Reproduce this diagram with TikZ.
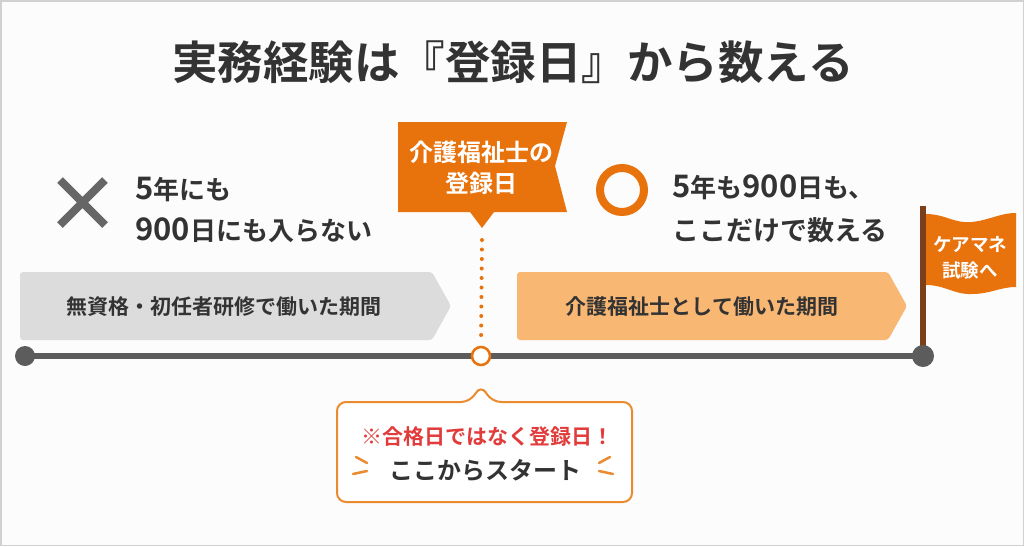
\documentclass[tikz,border=0pt]{standalone}
\usepackage{fontspec}
\setmainfont{Noto Sans CJK JP}[BoldFont={Noto Sans CJK JP Bold}]
\usetikzlibrary{calc}
\definecolor{ink}{HTML}{333333}
\definecolor{orng}{HTML}{E8720C}
\definecolor{lorng}{HTML}{F9B774}
\definecolor{bandgray}{HTML}{DCDCDC}
\definecolor{linegray}{HTML}{5C5C5C}
\definecolor{crossgray}{HTML}{666666}
\definecolor{callred}{HTML}{E23B3B}
\definecolor{boxorng}{HTML}{E98B2E}
\definecolor{pole}{HTML}{7B3F1C}
\definecolor{paper}{HTML}{FCFCFC}
\newcommand{\dg}[1]{{\fontsize{31}{36}\selectfont #1}}
\newcommand{\kn}[1]{{\fontsize{26}{36}\selectfont #1}}
\begin{document}
\begin{tikzpicture}[x=1pt,y=-1pt,
  txt/.style={inner sep=0pt,font=\bfseries,text=ink},
  bandtxt/.style={txt,font=\bfseries\fontsize{21}{24}\selectfont},
  big/.style={txt,anchor=base west},
  wtxt/.style={inner sep=0pt,font=\bfseries,text=white,align=center}]
\fill[paper] (0,0) rectangle (1024,546);
\draw[black!18,line width=1.5] (0.75,0.75) rectangle (1023.25,545.25);
\useasboundingbox (0,0) rectangle (1024,546);

% title
\node[txt,font=\bfseries\fontsize{45.5}{50}\selectfont] (title) at (513,62) {実務経験は『登録日』から数える};

% cross mark
\coordinate (c1) at (60,180); \coordinate (c2) at (105,225);
\coordinate (c3) at (105,180); \coordinate (c4) at (60,225);
\draw[crossgray,line width=8] (c1) -- (c2) (c3) -- (c4);

\node[big] (left1) at (135,199) {\dg{5}\kn{年にも}};
\node[big] (left2) at (135,240) {\dg{900}\kn{日にも入らない}};

% orange circle
\node[draw=orng,line width=8,circle,minimum size=44] (okmark) at (622,190) {};
\node[big] (right1) at (672,197) {\dg{5}\kn{年も}\dg{900}\kn{日も、}};
\node[big] (right2) at (672,240) {{\fontsize{27}{36}\selectfont ここだけで数える}};

% bands
\fill[bandgray,rounded corners=3] (20,272) -- (432,272) -- (451,306) -- (432,340) -- (20,340) -- cycle;
\node[bandtxt] (grayband) at (224,307) {無資格・初任者研修で働いた期間};
\fill[lorng,rounded corners=3] (517,272) -- (888,272) -- (907,306) -- (888,340) -- (517,340) -- cycle;
\node[bandtxt] (orangeband) at (702,307) {介護福祉士として働いた期間};

% timeline
\coordinate (tl) at (25,356);
\coordinate (tm) at (481,356);
\coordinate (tr) at (923,356);
\draw[linegray,line width=6] (tl) -- (tr);

% banner
\fill[orng] (398,122) -- (567,122) -- (555,166) -- (567,212) -- (494,212) -- (482,228) -- (470,212) -- (398,212) -- cycle;
\coordinate (btip) at (482,240);
\node[wtxt,font=\bfseries\fontsize{24}{31}\selectfont] (banner) at (481,168) {介護福祉士の\\登録日};

% dotted line
\draw[orng,line width=4,line cap=round,dash pattern=on 0pt off 9.5pt] (btip) -- ($(tm)+(0,-14)$);

% flag
\draw[pole,line width=6] (923,206) -- (tr);
\fill[orng] (926,214) .. controls (945,214) and (955,224) .. (972,222) .. controls (990,220) and (1000,213) .. (1016,213)
  -- (1016,287) .. controls (1000,287) and (990,294) .. (972,294) .. controls (955,295) and (945,285) .. (926,285) -- cycle;
\node[wtxt,font=\bfseries\fontsize{18.5}{26}\selectfont] (flagtxt) at (970,258) {ケアマネ\\試験へ};

% dots on timeline
\node[circle,fill=linegray,minimum size=20,inner sep=0] (dl) at (tl) {};
\node[circle,fill=linegray,minimum size=22,inner sep=0] (dr) at (tr) {};
\node[circle,fill=white,draw=orng,line width=2.5,minimum size=18,inner sep=0] (dm) at (tm) {};

% callout
\draw[boxorng,line width=2,fill=white,rounded corners=9] (337,402) -- (470,402) -- (481,385) -- (492,402) -- (632,402) -- (632,502) -- (337,502) -- cycle;
\node[inner sep=0pt,font=\bfseries\fontsize{21}{24}\selectfont,text=callred] (note) at (487,437) {※合格日ではなく登録日！};
\node[txt,font=\bfseries\fontsize{24}{28}\selectfont] (start) at (485,470) {ここからスタート};
\coordinate (l1a) at (356,457); \coordinate (l1b) at (367,463);
\coordinate (l2a) at (353,474); \coordinate (l2b) at (367,471);
\coordinate (r1a) at (610,457); \coordinate (r1b) at (599,463);
\coordinate (r2a) at (613,474); \coordinate (r2b) at (599,471);
\draw[boxorng,line width=2.5,line cap=round] (l1a) -- (l1b) (l2a) -- (l2b) (r1a) -- (r1b) (r2a) -- (r2b);
\end{tikzpicture}
\end{document}
